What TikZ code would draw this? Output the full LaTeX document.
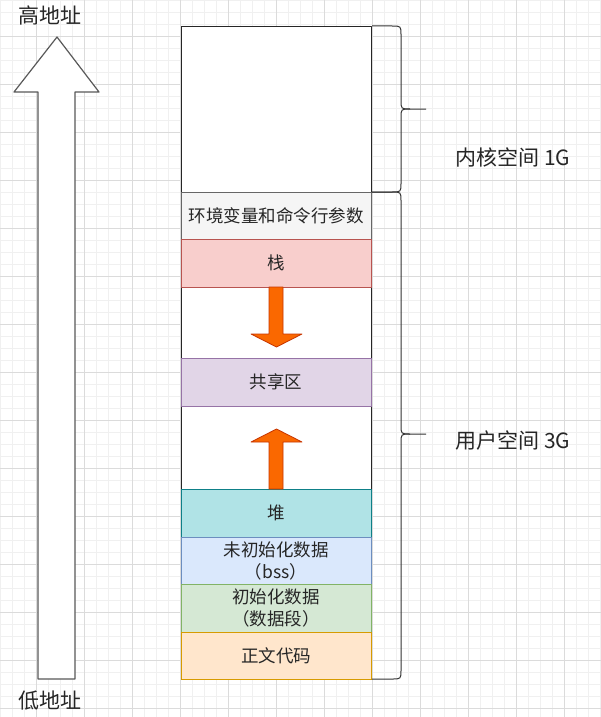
\documentclass[tikz,border=0pt]{standalone}
\usepackage{fontspec}
\setmainfont{Noto Sans CJK SC}
\definecolor{envfill}{HTML}{F5F5F5}\definecolor{envline}{HTML}{666666}
\definecolor{stackfill}{HTML}{F8CECC}\definecolor{stackline}{HTML}{B85450}
\definecolor{sharefill}{HTML}{E1D5E7}\definecolor{shareline}{HTML}{9673A6}
\definecolor{heapfill}{HTML}{B0E3E6}\definecolor{heapline}{HTML}{0E8088}
\definecolor{bssfill}{HTML}{DAE8FC}\definecolor{bssline}{HTML}{6C8EBF}
\definecolor{datafill}{HTML}{D5E8D4}\definecolor{dataline}{HTML}{82B366}
\definecolor{codefill}{HTML}{FFE6CC}\definecolor{codeline}{HTML}{D79B00}
\definecolor{arrowfill}{HTML}{FA6800}\definecolor{arrowline}{HTML}{C73500}
\begin{document}
\begin{tikzpicture}[x=1pt,y=-1pt, line join=round, >=stealth,
	seg/.style={draw, minimum width=190pt, minimum height=47.5pt, inner sep=0pt, font=\fontsize{17.5}{22}\selectfont, align=center, text=black!85},
	lbl/.style={font=\fontsize{21}{24}\selectfont, text=black!85},
	growarrow/.style={fill=arrowfill, draw=arrowline, line width=0.8pt},
	brace/.style={draw=black!80, line width=1pt}]
	\useasboundingbox (0,0) rectangle (601,717);
	\fill[white] (0,0) rectangle (601,717);
	\foreach \x in {0,12,...,600}{
		\draw[black!6] (\x,0)--(\x,717);}
	\foreach \y in {0,12,...,716}{
		\draw[black!6] (0,\y)--(601,\y);}
	\foreach \x in {36,84,...,600}{
		\draw[black!14] (\x,0)--(\x,717);}
	\foreach \y in {36,84,...,716}{
		\draw[black!14] (0,\y)--(601,\y);}
	% address direction
	\draw[fill=white, draw=black!65, line width=1.2pt] (38,679)--(38,92)--(14,92)--(57,37)--(99,92)--(75,92)--(75,679)--cycle;
	\node[lbl] (high) at (50,15) {高地址};
	\node[lbl] (low) at (50,701) {低地址};
	% memory layout
	\node[draw=black!85, fill=white, line width=0.9pt, minimum width=190pt, minimum height=653pt, inner sep=0pt] (mem) at (276,352.5) {};
	\node[seg, fill=envfill, draw=envline] (env) at (276,215.5) {环境变量和命令行参数};
	\node[seg, fill=stackfill, draw=stackline] (stack) at (276,263) {栈};
	\node[seg, fill=sharefill, draw=shareline] (shared) at (276,382) {共享区};
	\node[seg, fill=heapfill, draw=heapline] (heap) at (276,513) {堆};
	\node[seg, fill=bssfill, draw=bssline] (bss) at (276,560.5) {未初始化数据\\（bss）};
	\node[seg, fill=datafill, draw=dataline] (data) at (276,608) {初始化数据\\（数据段）};
	\node[seg, fill=codefill, draw=codeline] (code) at (276,655.5) {正文代码};
	\draw[growarrow] (269,287)--(269,334)--(251,334)--(276.5,347)--(302,334)--(283,334)--(283,287)--cycle;
	\draw[growarrow] (269,489)--(269,442)--(251,442)--(276.5,429)--(302,442)--(283,442)--(283,489)--cycle;
	% braces
	\draw[brace] (372,26)--(392,26) .. controls (401,26) .. (401,35)--(401,100) .. controls (401,109) .. (410,109)--(426,109);
	\draw[brace] (410,109) .. controls (401,109) .. (401,118)--(401,183) .. controls (401,192) .. (392,192)--(372,192);
	\draw[brace] (372,192)--(392,192) .. controls (401,192) .. (401,201)--(401,425) .. controls (401,434) .. (410,434)--(426,434);
	\draw[brace] (410,434) .. controls (401,434) .. (401,443)--(401,670) .. controls (401,679) .. (392,679)--(372,679);
	\node[lbl] (kernel) at (513,157) {内核空间 1G};
	\node[lbl] (user) at (513,441) {用户空间 3G};
\end{tikzpicture}
\end{document}
